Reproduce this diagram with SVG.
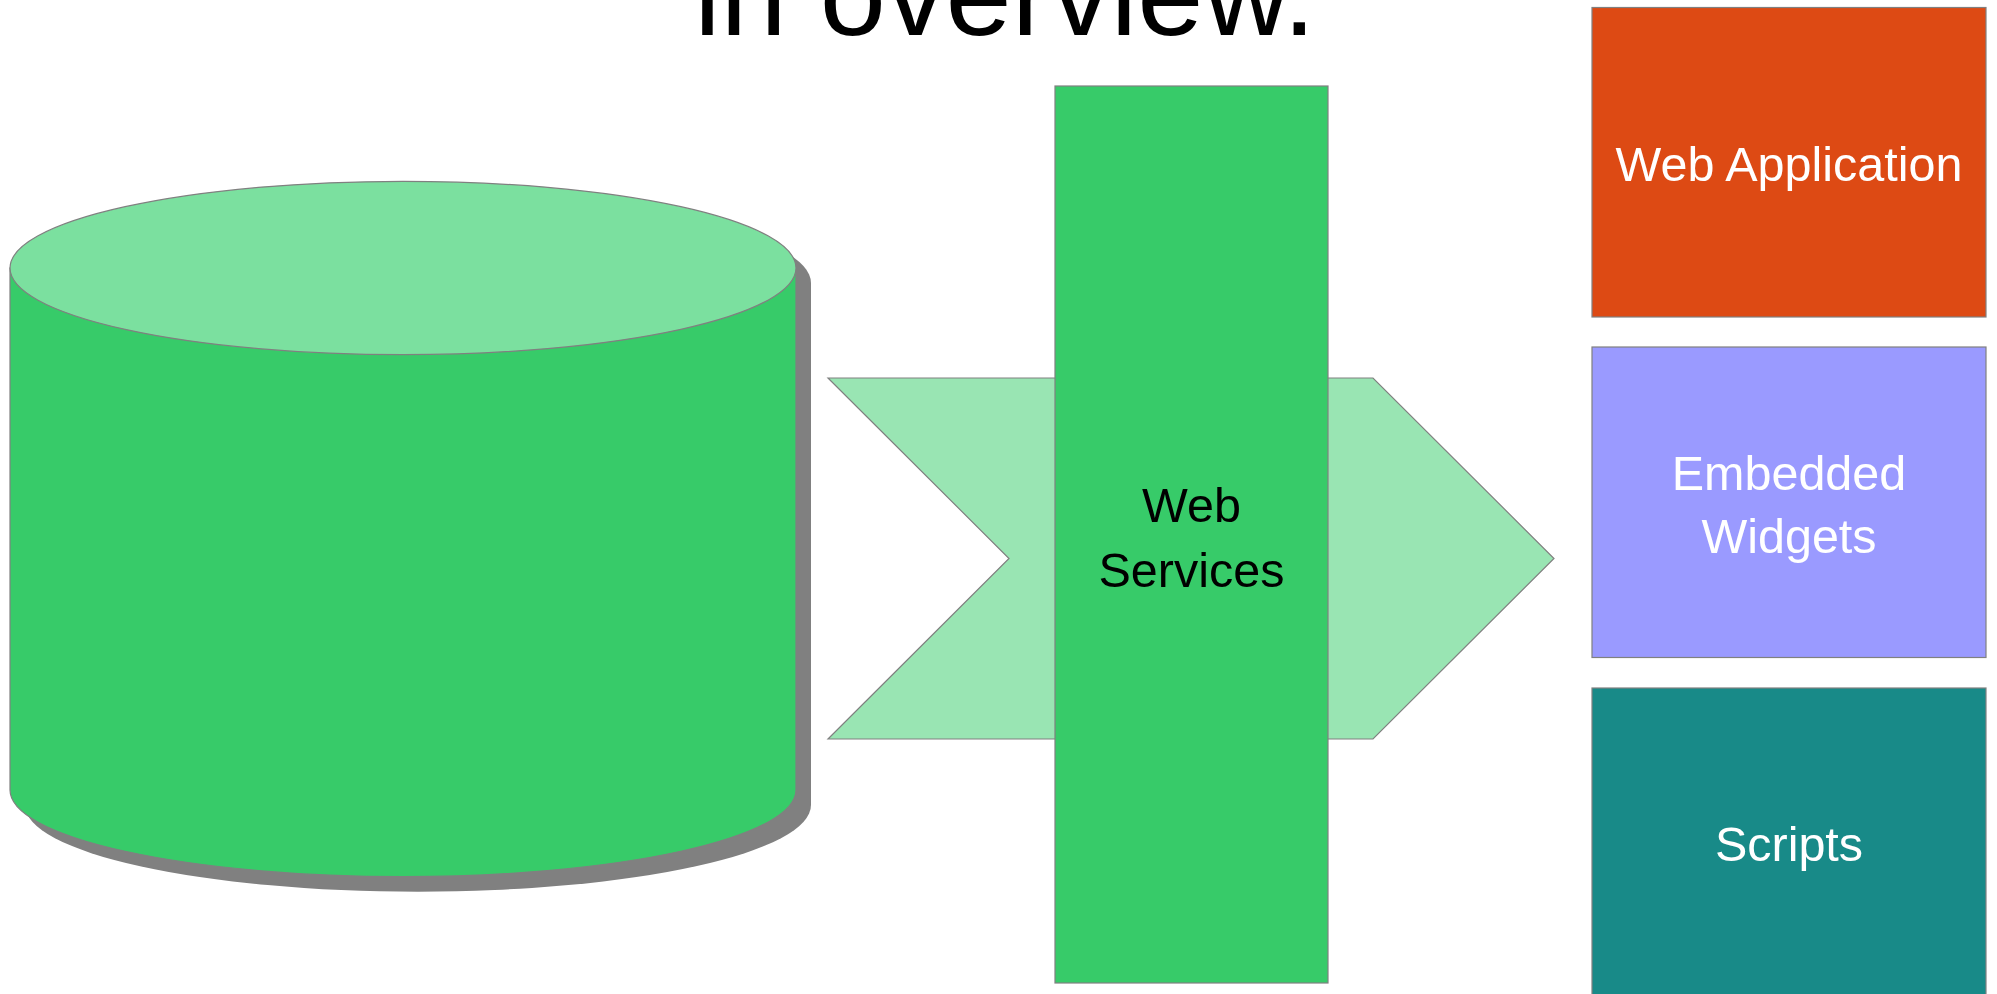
<svg xmlns="http://www.w3.org/2000/svg" width="1997" height="994" viewBox="0 0 1997 994">
  <style>
    .edge { stroke: #808080; stroke-width: 1.2; }
    .lbl { font-family: "Liberation Sans", Arial, sans-serif; font-size: 48.5px; text-anchor: middle; }
    .white { fill: #FFFFFF; }
    .dark { fill: #000000; }
  </style>
  <rect width="1997" height="994" fill="#FFFFFF"/>
  <text id="title" x="1005" y="35" font-family="Liberation Sans, Arial, sans-serif" font-size="119" text-anchor="middle" fill="#000000">in overview.</text>

  <g id="database">
    <g transform="translate(15,15)">
      <path d="M10,268 L10,790 A393,86.7 0 0 0 796,790 L796,268 Z" fill="#808080"/>
      <ellipse cx="403" cy="268" rx="393" ry="86.7" fill="#808080"/>
    </g>
    <path d="M10,268 L10,790 A393,86.7 0 0 0 796,790 L796,268 Z" fill="#37CB69" class="edge"/>
    <ellipse cx="403" cy="268" rx="393" ry="86.7" fill="#7BE09F" class="edge"/>
  </g>

  <g id="connectors">
    <polygon points="828,378 1373,378 1554,558.5 1373,739 828,739 1009,558.5" fill="#99E5B3" class="edge"/>
  </g>

  <g id="web-services">
    <rect x="1055" y="86" width="273" height="897" fill="#37CB69" class="edge"/>
    <text class="lbl dark" x="1191.5" y="522">Web</text>
    <text class="lbl dark" x="1191.5" y="587">Services</text>
  </g>

  <g id="web-application">
    <rect x="1592" y="7.5" width="394" height="309.5" fill="#DD4A14" class="edge"/>
    <text class="lbl white" x="1789" y="181">Web Application</text>
  </g>

  <g id="embedded-widgets">
    <rect x="1592" y="347" width="394" height="310.5" fill="#9A9AFF" class="edge"/>
    <text class="lbl white" x="1789" y="490">Embedded</text>
    <text class="lbl white" x="1789" y="553">Widgets</text>
  </g>

  <g id="scripts">
    <rect x="1592" y="688" width="394" height="310" fill="#188A88" class="edge"/>
    <text class="lbl white" x="1789" y="861">Scripts</text>
  </g>
</svg>
